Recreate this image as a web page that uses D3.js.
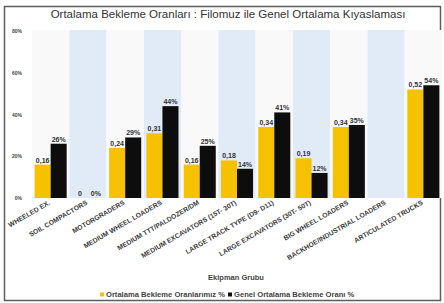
<!DOCTYPE html>
<html>
<head>
<meta charset="utf-8">
<script src="https://d3js.org/d3.v7.min.js"></script>
<style>
  body { margin: 0; background: #fff; }
  svg { display: block; font-family: "Liberation Sans", Arial, sans-serif; }
</style>
</head>
<body>
<svg id="chart"></svg>
<script>
// Ortalama bekleme oranlari - filo vs genel ortalama
var categories = [
  'WHEELED EX.',
  'SOIL COMPACTORS',
  'MOTORGRADERS',
  'MEDIUM WHEEL LOADERS',
  'MEDIUM TTT/PALDOZER/DM',
  'MEDIUM EXCAVATORS (15T- 30T)',
  'LARGE TRACK TYPE (D9- D11)',
  'LARGE EXCAVATORS (30T- 50T)',
  'BIG WHEEL LOADERS',
  'BACKHOE/INDUSTRIAL LOADERS',
  'ARTICULATED TRUCKS'
];
// null = no data for that group
var filoValues = [16, 0, 24, 31, 16, 18, 34, 19, 34, null, 52];
var filoLabels = ['0,16', '0', '0,24', '0,31', '0,16', '0,18', '0,34', '0,19', '0,34', '', '0,52'];
var genelValues = [26, 0, 29, 44, 25, 14, 41, 12, 35, null, 54];
var genelLabels = ['26%', '0%', '29%', '44%', '25%', '14%', '41%', '12%', '35%', '', '54%'];
var yTicks = [0, 20, 40, 60, 80];
var seriesNames = ['Ortalama Bekleme Oranlarımız %', 'Genel Ortalama Bekleme Oranı %'];

var width = 444;
var height = 303;
var margin = { top: 31, right: 2, bottom: 105, left: 32 };

var svg = d3.select('#chart')
  .attr('width', width)
  .attr('height', height);

var x0 = d3.scaleBand()
  .domain(categories)
  .range([margin.left, width - margin.right])
  .padding(0);

var x1 = d3.scaleBand()
  .domain(['filo', 'genel'])
  .range([x0.bandwidth() * 0.07, x0.bandwidth() * 0.93])
  .padding(0);

var y = d3.scaleLinear()
  .domain([0, 80])
  .range([height - margin.bottom, margin.top]);

var colors = { filo: '#f6c200', genel: '#0d0d0d' };

// outer frame
svg.append('rect')
  .attr('x', 4.5).attr('y', 6.5)
  .attr('width', 436).attr('height', 294)
  .attr('fill', '#fff')
  .attr('stroke', '#5e5e5e')
  .attr('stroke-width', 1.5);

// alternating column stripes
svg.append('g').selectAll('rect')
  .data(categories)
  .enter().append('rect')
    .attr('x', function (d) { return x0(d); })
    .attr('y', y(80) - 1)
    .attr('width', x0.bandwidth())
    .attr('height', y(0) - y(80) + 1)
    .attr('fill', function (d, i) { return i % 2 ? '#e0ebf7' : '#f9f9fa'; });

svg.append('text')
  .attr('x', 228)
  .attr('y', 18)
  .attr('text-anchor', 'middle')
  .attr('font-size', 11.5)
  .attr('fill', '#333')
  .text('Ortalama Bekleme Oranları : Filomuz ile Genel Ortalama Kıyaslaması');

// y axis
var yAxis = d3.axisLeft(y)
  .tickValues(yTicks)
  .tickSize(0)
  .tickPadding(3)
  .tickFormat(function (d) { return d + '%'; });

var yg = svg.append('g')
  .attr('transform', 'translate(' + (margin.left - 7) + ',0)')
  .call(yAxis);
yg.select('.domain').remove();
yg.selectAll('text')
  .attr('font-size', 5)
  .attr('font-weight', 'bold')
  .attr('fill', '#444');

// bars
var rows = categories.map(function (c, i) {
  return {
    cat: c,
    vals: [
      { key: 'filo', v: filoValues[i], label: filoLabels[i] },
      { key: 'genel', v: genelValues[i], label: genelLabels[i] }
    ]
  };
});

var groups = svg.append('g').selectAll('g')
  .data(rows)
  .enter().append('g')
    .attr('transform', function (d) { return 'translate(' + x0(d.cat) + ',0)'; });

groups.selectAll('rect')
  .data(function (d) { return d.vals.filter(function (v) { return v.v !== null; }); })
  .enter().append('rect')
    .attr('x', function (d) { return x1(d.key); })
    .attr('y', function (d) { return y(d.v); })
    .attr('width', x1.bandwidth())
    .attr('height', function (d) { return y(0) - y(d.v); })
    .attr('fill', function (d) { return colors[d.key]; });

groups.selectAll('text')
  .data(function (d) { return d.vals.filter(function (v) { return v.v !== null; }); })
  .enter().append('text')
    .attr('x', function (d) { return x1(d.key) + x1.bandwidth() / 2; })
    .attr('y', function (d) { return y(d.v) - 2; })
    .attr('text-anchor', 'middle')
    .attr('font-size', 7)
    .attr('font-weight', 'bold')
    .attr('fill', '#333')
    .text(function (d) { return d.label; });

// x axis, rotated labels
var xAxis = d3.axisBottom(x0).tickSize(0).tickPadding(0);
var xg = svg.append('g')
  .attr('transform', 'translate(0,' + y(0) + ')')
  .call(xAxis);
xg.select('.domain').remove();
xg.selectAll('text')
  .attr('font-size', 6.8)
  .attr('font-weight', 'bold')
  .attr('fill', '#3a3a3a')
  .attr('text-anchor', 'end')
  .attr('dy', 0)
  .attr('transform', 'translate(0,6) rotate(-30)');

svg.append('text')
  .attr('x', 236)
  .attr('y', 280)
  .attr('text-anchor', 'middle')
  .attr('font-size', 7.5)
  .attr('font-weight', 'bold')
  .attr('fill', '#444')
  .text('Ekipman Grubu');

// legend
var legend = svg.append('g').attr('transform', 'translate(100,297)');
var lx = 0;
seriesNames.forEach(function (name, i) {
  var key = i === 0 ? 'filo' : 'genel';
  legend.append('rect')
    .attr('x', lx).attr('y', -4.5)
    .attr('width', 4).attr('height', 4)
    .attr('fill', colors[key]);
  var t = legend.append('text')
    .attr('x', lx + 6)
    .attr('y', 0)
    .attr('font-size', 7.6)
    .attr('font-weight', 'bold')
    .attr('fill', '#444')
    .text(name);
  lx += 6 + t.node().getComputedTextLength() + 3;
});
</script>
</body>
</html>
